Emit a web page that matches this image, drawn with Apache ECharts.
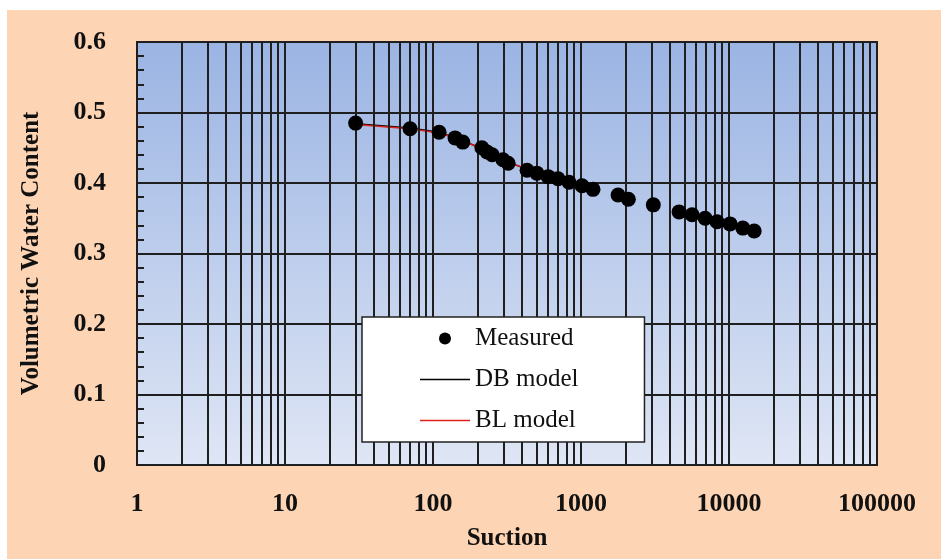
<!DOCTYPE html>
<html>
<head>
<meta charset="utf-8">
<script src="https://cdn.jsdelivr.net/npm/echarts@6/dist/echarts.min.js"></script>
<style>
  html, body { margin: 0; padding: 0; background: #fff; }
  #bg { position: absolute; left: 7px; top: 10px; right: 0; bottom: 0; background: #fdd5b4; }
  #main { position: absolute; left: 0; top: 0; width: 941px; height: 559px; }
</style>
</head>
<body>
<div id="bg"></div>
<div id="main"></div>
<script>
// measured points (suction, volumetric water content)
const suction = [30, 70, 110, 141, 159, 214, 232, 251, 297, 322, 432, 503, 600, 700, 830, 1016, 1206,
  1780, 2090, 3080, 4600, 5630, 6900, 8300, 10160, 12400, 14800];
const measured = [0.485, 0.477, 0.472, 0.464, 0.458, 0.450, 0.444, 0.440, 0.433, 0.428, 0.418, 0.414, 0.409,
  0.406, 0.401, 0.396, 0.391, 0.383, 0.377, 0.369, 0.359, 0.355, 0.350, 0.345, 0.342, 0.336, 0.332];

// model curves
const modelSuction = [30, 70, 110, 160, 230, 320, 450, 650, 900, 1200];
const dbModel = [0.484, 0.478, 0.472, 0.460, 0.446, 0.430, 0.418, 0.408, 0.399, 0.392];
const blModel = [0.483, 0.477, 0.471, 0.460, 0.445, 0.430, 0.418, 0.408, 0.399, 0.392];

const xTicks = [1, 10, 100, 1000, 10000, 100000];
const yTicks = [0, 0.1, 0.2, 0.3, 0.4, 0.5, 0.6];

// minor log grid lines 2..9 in each decade
const minorLines = [];
xTicks.slice(0, -1).forEach(d => {
  for (let k = 2; k <= 9; k++) minorLines.push({ xAxis: k * d });
});

const font = "'Liberation Serif', 'Times New Roman', serif";
const gridColor = '#1f1f1f';
const lineIcon = 'path://M0,0 L50,0 L50,1.5 L0,1.5 Z';

const chart = echarts.init(document.getElementById('main'));
const option = {
  backgroundColor: 'transparent',
  animation: false,
  grid: {
    left: 137, right: 64, top: 42, bottom: 94,
    show: true,
    borderColor: gridColor,
    borderWidth: 2,
    backgroundColor: new echarts.graphic.LinearGradient(0, 0, 0, 1, [
      { offset: 0, color: '#9bb4e3' },
      { offset: 1, color: '#dfe6f5' }
    ])
  },
  legend: {
    z: 20,
    data: [
      { name: 'Measured', icon: 'circle' },
      { name: 'DB model', icon: lineIcon },
      { name: 'BL model', icon: lineIcon }
    ],
    orient: 'vertical',
    left: 362, top: 317,
    backgroundColor: '#fff',
    borderColor: '#222',
    borderWidth: 1.5,
    borderRadius: 0,
    padding: [8, 66, 8, 58],
    itemWidth: 50,
    itemHeight: 12,
    itemGap: 14,
    textStyle: { fontFamily: font, fontSize: 25, color: '#111', lineHeight: 27 }
  },
  xAxis: {
    type: 'log',
    logBase: 10,
    min: xTicks[0],
    max: xTicks[xTicks.length - 1],
    name: 'Suction',
    nameLocation: 'middle',
    nameGap: 61,
    nameTextStyle: { fontFamily: font, fontSize: 25, fontWeight: 'bold', color: '#111' },
    axisLine: { show: true, lineStyle: { color: gridColor, width: 2 } },
    axisTick: { show: false },
    axisLabel: {
      margin: 26,
      fontFamily: font, fontSize: 26, fontWeight: 'bold', color: '#111',
      formatter: v => String(Math.round(v))
    },
    splitLine: { show: true, lineStyle: { color: gridColor, width: 2 } }
  },
  yAxis: {
    type: 'value',
    min: yTicks[0],
    max: yTicks[yTicks.length - 1],
    interval: 0.1,
    name: 'Volumetric Water Content',
    nameLocation: 'middle',
    nameGap: 93,
    nameTextStyle: { fontFamily: font, fontSize: 25, fontWeight: 'bold', color: '#111' },
    axisLine: { show: true, lineStyle: { color: gridColor, width: 2 } },
    axisTick: { show: true, inside: true, length: 7, lineStyle: { color: gridColor, width: 2 } },
    minorTick: { show: true, splitNumber: 5, length: 7, lineStyle: { color: gridColor, width: 2 } },
    axisLabel: {
      margin: 31,
      fontFamily: font, fontSize: 26, fontWeight: 'bold', color: '#111',
      formatter: v => String(Math.round(v * 10) / 10)
    },
    splitLine: { show: true, lineStyle: { color: gridColor, width: 2 } }
  },
  series: [
    {
      // carrier for the minor grid lines
      name: 'grid',
      type: 'line',
      z: 1,
      data: [[1, 0]],
      symbol: 'none',
      lineStyle: { opacity: 0 },
      silent: true,
      markLine: {
        silent: true,
        symbol: 'none',
        label: { show: false },
        lineStyle: { color: gridColor, width: 2, type: 'solid' },
        data: minorLines
      }
    },
    {
      name: 'DB model',
      type: 'line',
      z: 3,
      symbol: 'none',
      lineStyle: { color: '#000', width: 1.5 },
      itemStyle: { color: '#000' },
      data: modelSuction.map((s, i) => [s, dbModel[i]])
    },
    {
      name: 'BL model',
      type: 'line',
      z: 4,
      symbol: 'none',
      lineStyle: { color: '#e0201c', width: 1.5 },
      itemStyle: { color: '#e0201c' },
      data: modelSuction.map((s, i) => [s, blModel[i]])
    },
    {
      name: 'Measured',
      type: 'scatter',
      z: 5,
      symbol: 'circle',
      symbolSize: 15,
      itemStyle: { color: '#000', opacity: 1 },
      data: suction.map((s, i) => [s, measured[i]])
    }
  ]
};
chart.setOption(option);
</script>
</body>
</html>
